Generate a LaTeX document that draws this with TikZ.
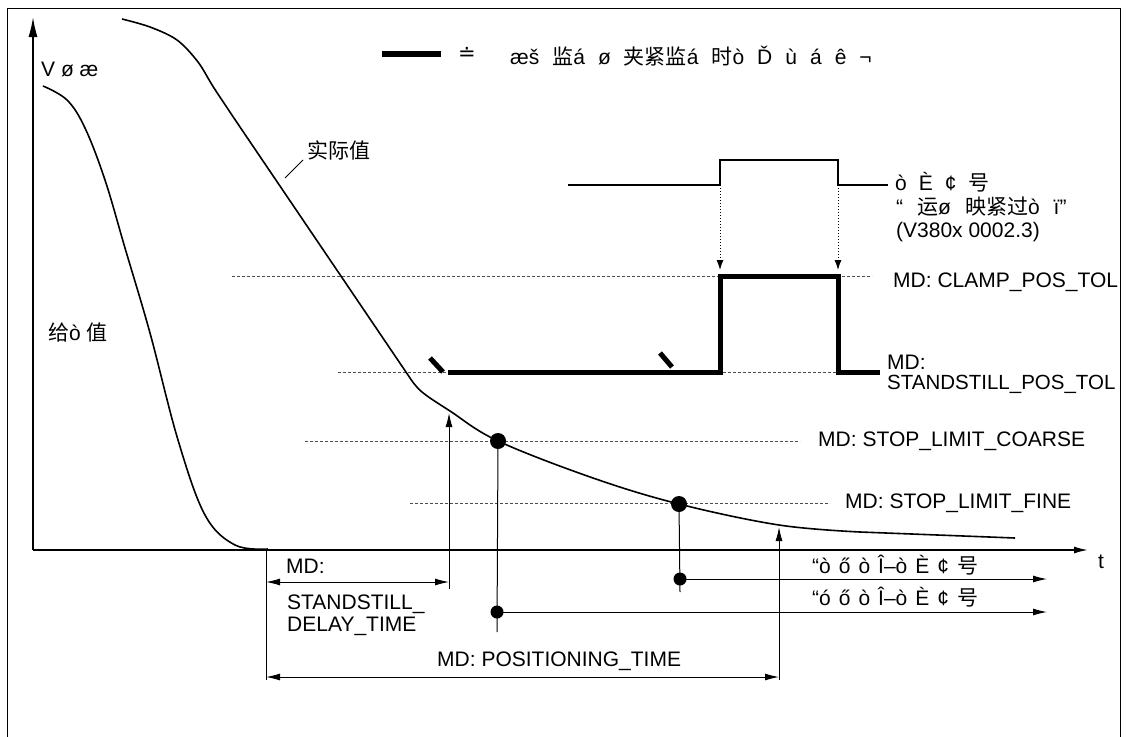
\documentclass[tikz,border=0pt]{standalone}
\usepackage{fontspec}
\setmainfont{Liberation Sans}
\newfontfamily\cjk{Noto Sans CJK SC}
\newfontfamily\symfont{DejaVu Sans}
\newcommand\zh[1]{{\cjk #1}}
\newcommand\wsp[1]{\spaceskip=#1\relax}
\usetikzlibrary{arrows.meta}
\tikzset{
  lbl/.style={anchor=west,inner sep=0pt,font=\fontsize{21}{21}\selectfont},
  tol/.style={dash pattern=on 3pt off 2pt,line width=0.8pt,black!70},
  monline/.style={line width=5pt,line join=miter},
  meas/.style={line width=1pt},
  tip/.style={-{Latex[length=14pt,width=7pt]}},
  dimarrow/.style={meas,{Latex[length=14pt,width=7pt]}-{Latex[length=14pt,width=7pt]}},
  spot/.style={circle,fill=black,inner sep=0pt,minimum size=#1}
}
\begin{document}
\begin{tikzpicture}[x=1pt,y=-1pt]
\useasboundingbox (0,0) rectangle (1126,736);
% frame
\draw[line width=1pt] (7,740) -- (7,8) -- (1120,8) -- (1120,740);
% axes
\coordinate (o) at (33,550);
\draw[line width=1.6pt,-{Latex[length=20pt,width=9pt]}] (o) -- (33,17);
\draw[line width=1.6pt,tip] (o) -- (1088,550);
\node[lbl] (vlbl) at (41,69) {V ø æ};
\node[lbl] (tlbl) at (1098,562) {t};
% legend
\draw[line width=6pt] (382,54) -- (441,54);
\node[lbl,font=\symfont\fontsize{21}{21}\selectfont] (eq) at (458,54) {≐};
\node[lbl] (legend) at (510,56) {\wsp{13pt}æš \zh{监}á ø \zh{夹紧监}á \zh{时}ò Ď ù á ê ¬};
% tolerance lines
\draw[tol] (232,276) -- (872,276);
\draw[tol] (338,372) -- (880,372);
\draw[tol] (305,441) -- (800,441);
\draw[tol] (410,503) -- (830,503);
\node[lbl] (clamp) at (893,282) {MD: CLAMP\_POS\_TOL};
\node[lbl] (still1) at (887,362) {MD:};
\node[lbl,font=\fontsize{20.5}{21}\selectfont] (still2) at (887,384) {STANDSTILL\_POS\_TOL};
\node[lbl] (coarse) at (818,441) {MD: STOP\_LIMIT\_COARSE};
\node[lbl] (fine) at (845,503) {MD: STOP\_LIMIT\_FINE};
% setpoint
\draw[line width=1.6pt] plot[smooth,tension=0.6] coordinates
  {(43,86) (67,100) (85,128) (105,180) (125,248) (150,333) (178,440) (205,515) (235,545) (268,549)};
\node[lbl] (setlbl) at (48,333) {\zh{给}ò \zh{值}};
% actual value
\draw[line width=1.6pt] plot[smooth,tension=0.55] coordinates
  {(122,19) (150,27) (177,40) (198,62) (214,88) (240,127)}
  -- (410,378)
  plot[smooth,tension=0.6] coordinates
  {(410,378) (422,392) (450,411) (498,441) (593,478) (679,504) (779,525) (860,532)}
  -- (1015,538);
\node[lbl] (actlbl) at (307,150) {\zh{实际值}};
\draw[meas] (303,160) -- (285,178);
% monitoring signal
\draw[monline] (448,372) -- (720,372) -- (720,276) -- (838,276) -- (838,372) -- (880,372);
\draw[line width=5pt] (430,358) -- (443,372);
\draw[line width=5pt] (660,353) -- (672,367);
% clamping signal
\draw[line width=1.6pt] (568,185) -- (720,185) -- (720,160) -- (838,160) -- (838,185) -- (888,185);
\draw[dotted,line width=1pt,-{Latex[length=10pt,width=7pt]}] (720,185) -- (720,270);
\draw[dotted,line width=1pt,-{Latex[length=10pt,width=7pt]}] (838,185) -- (838,270);
\node[lbl] (clsig) at (895,182) {\wsp{12pt}ò È ¢ \zh{号}};
\node[lbl] (clsig2) at (896,207) {\wsp{14pt}“ \zh{运}ø \zh{映紧过}ò ï”};
\node[lbl] (vnum) at (896,232) {(V380x 0002.3)};
% stop limit points
\node[spot=16pt] (pc) at (498,441) {};
\node[spot=16pt] (pf) at (679,504) {};
\node[spot=13pt] (qf) at (680,579) {};
\node[spot=13pt] (qc) at (497,612) {};
\draw[meas] (pc.center) -- (497,632);
\draw[meas] (pf.center) -- (680,592);
\draw[meas,tip] (qf.center) -- (1047,579);
\draw[meas,tip] (qc.center) -- (1047,612);
\node[lbl] (finetxt) at (812,565) {\wsp{8pt}“ò ő ò Î–ò È ¢ \zh{号}};
\node[lbl] (coarsetxt) at (812,597) {\wsp{8pt}“ó ő ò Î–ò È ¢ \zh{号}};
% standstill delay and positioning time
\draw[meas,tip] (449,589) -- (449,413);
\draw[meas,tip] (779,680) -- (779,527);
\draw[meas] (266,549) -- (266,680);
\draw[dimarrow] (266,582) -- (449,582);
\draw[dimarrow] (266,677) -- (779,677);
\node[lbl] (dl1) at (286,566) {MD:};
\node[lbl] (dl2) at (287,604) {STANDSTILL\_};
\node[lbl] (dl3) at (287,626) {DELAY\_TIME};
\node[lbl] (postime) at (437,661) {MD: POSITIONING\_TIME};
\end{tikzpicture}
\end{document}
